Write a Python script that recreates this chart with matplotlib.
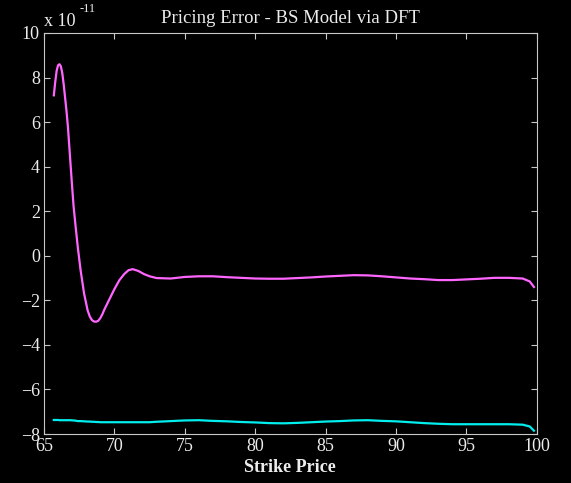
import matplotlib
matplotlib.use('Agg')
import matplotlib.pyplot as plt

# strike grid and pricing errors (units of 1e-11)
strike = [65.7, 65.8, 65.9, 66.0, 66.1, 66.2, 66.3, 66.4, 66.5, 66.6, 66.7, 66.8,
          66.9, 67.0, 67.1, 67.25, 67.4, 67.6, 67.85, 68.1, 68.25, 68.4, 68.55,
          68.7, 68.85, 69.0, 69.15, 69.3, 69.65, 70.0, 70.35, 70.7, 71.0, 71.3,
          71.7, 72.1, 72.5, 73.0, 74, 75, 76, 77, 78, 79, 80, 81, 82, 83, 84,
          85, 86, 87, 88, 89, 90, 91, 92, 93, 94, 95, 96, 97, 98, 99, 99.5, 99.8]

err_call = [7.2, 7.8, 8.3, 8.55, 8.6, 8.5, 8.2, 7.7, 7.1, 6.5, 5.8, 4.9,
            4.0, 3.1, 2.25, 1.3, 0.4, -0.64, -1.7, -2.45, -2.72, -2.88, -2.95,
            -2.96, -2.92, -2.8, -2.62, -2.4, -1.95, -1.5, -1.1, -0.82, -0.65, -0.6,
            -0.68, -0.82, -0.92, -1.0, -1.02, -0.95, -0.92, -0.92, -0.96, -0.99, -1.02,
            -1.03, -1.03, -1.0, -0.97, -0.93, -0.9, -0.87, -0.88, -0.92, -0.97, -1.02,
            -1.05, -1.09, -1.09, -1.06, -1.03, -0.99, -0.99, -1.02, -1.15, -1.4]

err_put = [-7.37, -7.37, -7.37, -7.37, -7.38, -7.38, -7.38, -7.38, -7.38, -7.38, -7.38, -7.38,
           -7.38, -7.39, -7.39, -7.4, -7.42, -7.42, -7.43, -7.44, -7.44, -7.45, -7.45,
           -7.46, -7.46, -7.47, -7.47, -7.47, -7.47, -7.47, -7.47, -7.47, -7.47, -7.47,
           -7.47, -7.47, -7.47, -7.45, -7.42, -7.39, -7.38, -7.41, -7.43, -7.46, -7.48,
           -7.51, -7.52, -7.5, -7.47, -7.44, -7.42, -7.39, -7.38, -7.41, -7.43, -7.47,
           -7.51, -7.54, -7.56, -7.56, -7.56, -7.56, -7.56, -7.58, -7.66, -7.85]

xticks = [65, 70, 75, 80, 85, 90, 95, 100]
yticks = [-8, -6, -4, -2, 0, 2, 4, 6, 8, 10]

plt.rcParams['font.family'] = ['Liberation Serif', 'DejaVu Serif']
fg = '#ececec'

fig = plt.figure(figsize=(5.71, 4.83), dpi=100, facecolor='black')
ax = fig.add_axes([0.077, 0.1014, 0.863, 0.8303], facecolor='black')

ax.plot(strike, err_call, color='#ff66ff', lw=1.6)
ax.plot(strike, err_put, color='#00eeee', lw=1.6)

ax.set_xlim(65, 100)
ax.set_ylim(-8, 10)
ax.set_xticks(xticks)
ax.set_yticks(yticks)
ax.tick_params(direction='in', top=True, right=True, colors='#c8c8c8',
               labelcolor=fg, labelsize=13, length=4, pad=3)
for s in ax.spines.values():
    s.set_color('#c8c8c8')

ax.set_title('Pricing Error - BS Model via DFT', color=fg, fontsize=13.5, pad=7)
ax.set_xlabel('Strike Price', color=fg, fontsize=13, fontweight='bold', labelpad=3)
ax.text(0.0, 1.008, 'x 10', transform=ax.transAxes, color=fg,
        fontsize=13, va='bottom', ha='left')
ax.text(0.072, 1.045, '-11', transform=ax.transAxes, color=fg,
        fontsize=9, va='bottom', ha='left')

fig.savefig('out.png', dpi=100, facecolor='black')
